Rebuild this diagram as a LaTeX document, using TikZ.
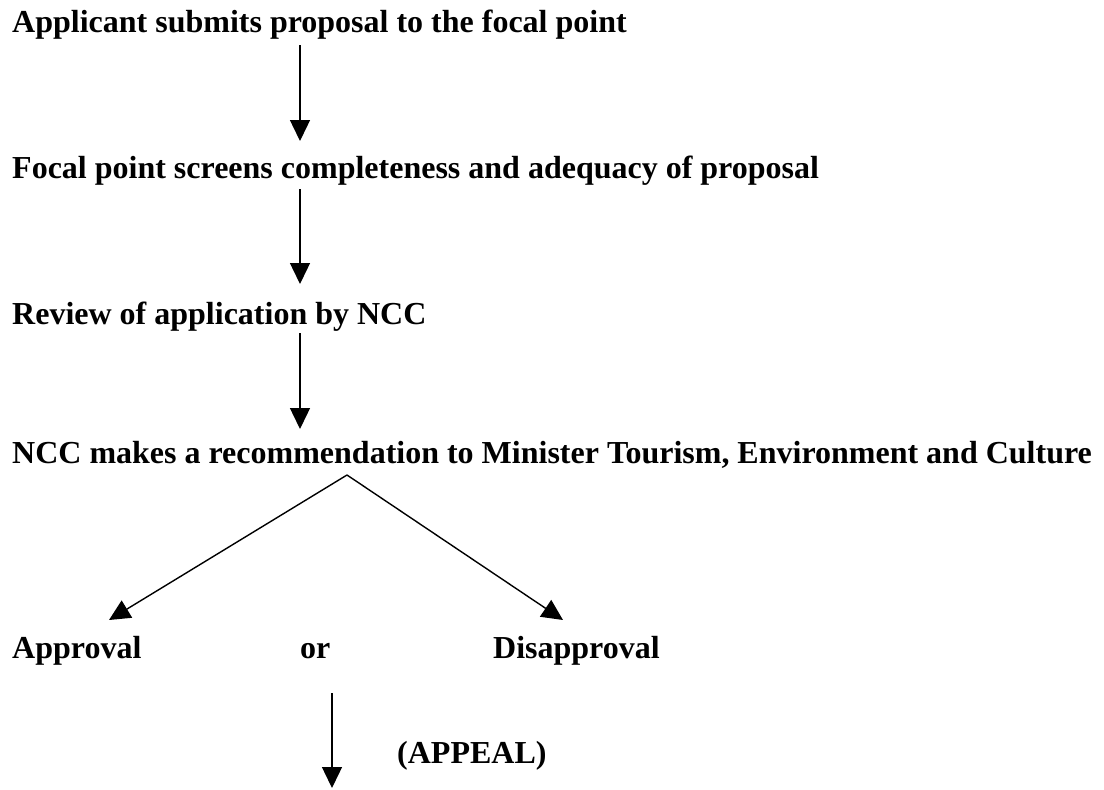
\documentclass[tikz,border=0pt]{standalone}
\usepackage{fontspec}
\setmainfont{Liberation Serif}
\usetikzlibrary{arrows.meta, calc}

\begin{document}
\begin{tikzpicture}[x=1pt, y=-1pt,
    stage/.style={anchor=base west, inner sep=0pt, font=\fontsize{32}{38}\selectfont\bfseries},
    flow/.style={-{Triangle[length=21pt,width=20pt]}, line width=1.4pt}]
        \useasboundingbox (0,0) rectangle (1104,790);

        \coordinate (A1) at (300,45);
        \coordinate (B1) at (300,141);
        \coordinate (A2) at (300,189);
        \coordinate (B2) at (300,284);
        \coordinate (A3) at (300,333);
        \coordinate (B3) at (300,429);
        \coordinate (V) at (347,475);
        \coordinate (L) at (109,620);
        \coordinate (R) at (563,620);
        \coordinate (A4) at (332,693);
        \coordinate (B4) at (332,788);

        \node[stage] (submit) at (12,32) {Applicant submits proposal to the focal point};
        \node[stage] (screen) at (12,178) {Focal point screens completeness and adequacy of proposal};
        \node[stage] (review) at (12,324) {Review of application by NCC};
        \node[stage] (recommend) at (12,463) {NCC makes a recommendation to Minister Tourism, Environment and Culture};
        \node[stage] (approve) at (12,658) {Approval};
        \node[stage] (or) at (300,658) {or};
        \node[stage] (disapprove) at (493,658) {Disapproval};
        \node[stage] (appeal) at (397,763) {(APPEAL)};

        \draw[flow] (A1) -- (B1);
        \draw[flow] (A2) -- (B2);
        \draw[flow] (A3) -- (B3);
        \draw[flow] (V) -- (L);
        \draw[flow] (V) -- (R);
        \draw[flow] (A4) -- (B4);
\end{tikzpicture}
\end{document}
